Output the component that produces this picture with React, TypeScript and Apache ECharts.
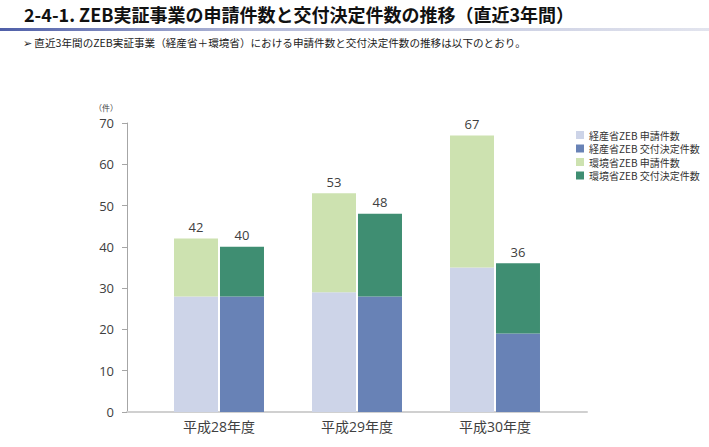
import React, { useEffect, useRef } from "react";
import * as echarts from "echarts";

const categories = ["平成28年度", "平成29年度", "平成30年度"];
const metiApply = [28, 29, 35];
const metiApproved = [28, 28, 19];
const moeApply = [14, 24, 32];
const moeApproved = [12, 20, 17];
const seriesNames = [
  "経産省ZEB 申請件数",
  "経産省ZEB 交付決定件数",
  "環境省ZEB 申請件数",
  "環境省ZEB 交付決定件数",
];
const colors = ["#cdd4e8", "#6882b6", "#cde2b0", "#3f8e72"];
const yMin = 0;
const yMax = 70;
const yInterval = 10;

const FONT = "'Open Sans', 'Noto Sans CJK JP', sans-serif";
const CJK = "'Noto Sans CJK JP', sans-serif";

export default function App() {
  const ref = useRef<HTMLDivElement>(null);
  useEffect(() => {
    if (!ref.current) return;
    const chart = echarts.init(ref.current, undefined, { renderer: "svg" });
    const applyTotal = metiApply.map((v, i) => v + moeApply[i]);
    const approvedTotal = metiApproved.map((v, i) => v + moeApproved[i]);
    const labelStyle = {
      show: true,
      position: "top",
      distance: 5,
      fontSize: 13,
      color: "#404040",
      fontFamily: FONT,
    };
    chart.setOption({
      animation: false,
      backgroundColor: "#ffffff",
      textStyle: { fontFamily: FONT },
      graphic: [
        {
          type: "text",
          left: 24,
          top: 5,
          style: {
            text: "2-4-1. ZEB実証事業の申請件数と交付決定件数の推移（直近3年間）",
            font: "bold 18px " + CJK,
            fill: "#111111",
          },
        },
        {
          type: "rect",
          shape: { x: 0, y: 28, width: 709, height: 3 },
          style: {
            fill: new echarts.graphic.LinearGradient(0, 0, 1, 0, [
              { offset: 0, color: "#4f5fa8" },
              { offset: 0.35, color: "#b4bad8" },
              { offset: 1, color: "#e2e4ee" },
            ]),
          },
        },
        {
          type: "text",
          left: 23,
          top: 37,
          style: {
            text: "➢ 直近3年間のZEB実証事業（経産省＋環境省）における申請件数と交付決定件数の推移は以下のとおり。",
            font: "10.6px " + CJK,
            fill: "#222222",
          },
        },
        {
          type: "text",
          left: 94,
          top: 103,
          style: {
            text: "（件）",
            font: "8px " + CJK,
            fill: "#404040",
          },
        },
      ],
      legend: {
        orient: "vertical",
        left: 571,
        top: 124,
        itemWidth: 8,
        itemHeight: 8,
        itemGap: 1.5,
        icon: "rect",
        data: seriesNames,
        textStyle: {
          fontSize: 10,
          lineHeight: 12,
          color: "#333333",
          fontFamily: CJK,
        },
      },
      grid: [
        { left: 127, top: 123, width: 460, height: 289 },
        { left: 150, top: 123, width: 414, height: 289 },
      ],
      xAxis: [
        {
          type: "category",
          gridIndex: 0,
          data: [""],
          axisLine: { lineStyle: { color: "#d0d0d0", width: 2 } },
          axisTick: { show: false },
          axisLabel: { show: false },
        },
        {
          type: "category",
          gridIndex: 1,
          data: categories,
          axisLine: { show: false },
          axisTick: { show: false },
          axisLabel: {
            fontSize: 14,
            color: "#404040",
            margin: 7,
            fontFamily: FONT,
          },
        },
      ],
      yAxis: [
        {
          type: "value",
          gridIndex: 0,
          min: yMin,
          max: yMax,
          interval: yInterval,
          splitLine: { show: false },
          axisLine: { show: true, lineStyle: { color: "#a6a6a6" } },
          axisTick: { show: true, length: 5, lineStyle: { color: "#a6a6a6" } },
          axisLabel: {
            fontSize: 13,
            color: "#404040",
            margin: 13,
            fontFamily: FONT,
          },
        },
        {
          type: "value",
          gridIndex: 1,
          min: yMin,
          max: yMax,
          interval: yInterval,
          show: false,
          splitLine: { show: false },
        },
      ],
      series: [
        {
          name: seriesNames[0],
          type: "bar",
          xAxisIndex: 1,
          yAxisIndex: 1,
          stack: "apply",
          barWidth: 44,
          barGap: "4.5%",
          data: metiApply,
          itemStyle: { color: colors[0] },
        },
        {
          name: seriesNames[1],
          type: "bar",
          xAxisIndex: 1,
          yAxisIndex: 1,
          stack: "approved",
          barWidth: 44,
          barGap: "4.5%",
          data: metiApproved,
          itemStyle: { color: colors[1] },
        },
        {
          name: seriesNames[2],
          type: "bar",
          xAxisIndex: 1,
          yAxisIndex: 1,
          stack: "apply",
          barWidth: 44,
          barGap: "4.5%",
          data: moeApply,
          itemStyle: { color: colors[2] },
          label: {
            ...labelStyle,
            formatter: (p: any) => String(applyTotal[p.dataIndex]),
          },
        },
        {
          name: seriesNames[3],
          type: "bar",
          xAxisIndex: 1,
          yAxisIndex: 1,
          stack: "approved",
          barWidth: 44,
          barGap: "4.5%",
          data: moeApproved,
          itemStyle: { color: colors[3] },
          label: {
            ...labelStyle,
            formatter: (p: any) => String(approvedTotal[p.dataIndex]),
          },
        },
      ],
    });
    return () => chart.dispose();
  }, []);
  return (
    <div
      ref={ref}
      style={{ position: "absolute", left: 0, top: 0, width: 709, height: 447 }}
    />
  );
}
